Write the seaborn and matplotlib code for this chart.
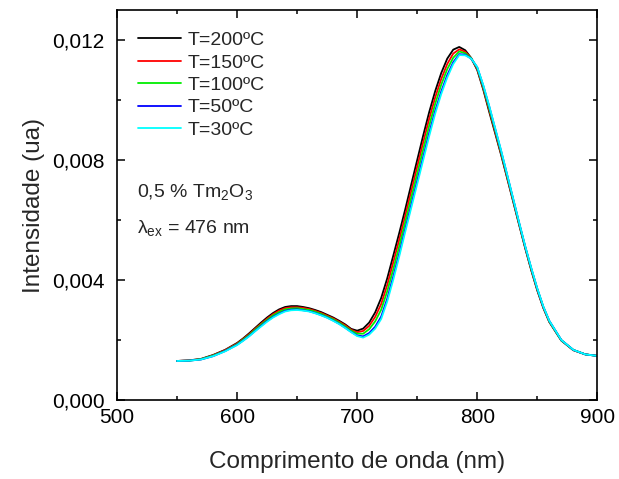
import matplotlib
matplotlib.use("Agg")
import matplotlib.pyplot as plt
import pandas as pd
import seaborn as sns
from matplotlib.ticker import MultipleLocator


wavelength = [550, 560, 570, 580, 590,
              600, 605, 610, 615, 620, 625, 630, 635, 640, 645, 650, 655,
              660, 665, 670, 675, 680, 685, 690, 695, 700, 705, 710, 715,
              720, 725, 730, 735, 740, 745, 750, 755, 760, 765, 770, 775,
              780, 785, 790, 795, 800, 805, 810, 815, 820, 825, 830, 835,
              840, 845, 850, 855, 860,
              870, 880, 890, 900]

t200 = [0.00130, 0.00132, 0.00137, 0.00150, 0.00167,
        0.00190, 0.00205, 0.00222, 0.00240, 0.00258, 0.00275, 0.00290, 0.00302,
        0.00310, 0.00313, 0.00313, 0.00310, 0.00306, 0.00300, 0.00293, 0.00284,
        0.00275, 0.00264, 0.00252, 0.00237, 0.00231, 0.00238, 0.00258, 0.00292,
        0.00340, 0.00405, 0.00480, 0.00556, 0.00635, 0.00718, 0.00800, 0.00882,
        0.00960, 0.01030, 0.01090, 0.01138, 0.01168, 0.01177, 0.01166, 0.01140,
        0.01100, 0.01035, 0.00960, 0.00888, 0.00815, 0.00738, 0.00660, 0.00582,
        0.00505, 0.00432, 0.00365, 0.00307, 0.00260,
        0.00198, 0.00166, 0.00152, 0.00147]
t150 = [0.00130, 0.00132, 0.00136, 0.00149, 0.00166,
        0.00188, 0.00203, 0.00219, 0.00237, 0.00254, 0.00271, 0.00286, 0.00298,
        0.00306, 0.00309, 0.00309, 0.00307, 0.00303, 0.00297, 0.00290, 0.00281,
        0.00272, 0.00261, 0.00249, 0.00234, 0.00226, 0.00230, 0.00247, 0.00277,
        0.00320, 0.00383, 0.00458, 0.00534, 0.00614, 0.00696, 0.00778, 0.00859,
        0.00938, 0.01009, 0.01070, 0.01120, 0.01155, 0.01169, 0.01161, 0.01139,
        0.01103, 0.01039, 0.00966, 0.00893, 0.00819, 0.00741, 0.00663, 0.00584,
        0.00507, 0.00434, 0.00367, 0.00308, 0.00261,
        0.00199, 0.00166, 0.00152, 0.00147]
t100 = [0.00130, 0.00131, 0.00136, 0.00148, 0.00164,
        0.00186, 0.00201, 0.00216, 0.00234, 0.00251, 0.00267, 0.00282, 0.00293,
        0.00302, 0.00305, 0.00306, 0.00303, 0.00300, 0.00294, 0.00287, 0.00278,
        0.00269, 0.00258, 0.00245, 0.00231, 0.00221, 0.00221, 0.00236, 0.00262,
        0.00301, 0.00362, 0.00435, 0.00512, 0.00593, 0.00674, 0.00755, 0.00836,
        0.00915, 0.00988, 0.01051, 0.01103, 0.01141, 0.01162, 0.01156, 0.01139,
        0.01106, 0.01043, 0.00971, 0.00898, 0.00823, 0.00745, 0.00666, 0.00586,
        0.00509, 0.00436, 0.00369, 0.00310, 0.00262,
        0.00199, 0.00167, 0.00152, 0.00147]
t50 = [0.00130, 0.00131, 0.00135, 0.00146, 0.00163,
       0.00184, 0.00198, 0.00213, 0.00230, 0.00247, 0.00263, 0.00277, 0.00288,
       0.00297, 0.00301, 0.00302, 0.00299, 0.00296, 0.00290, 0.00283, 0.00275,
       0.00265, 0.00254, 0.00241, 0.00227, 0.00215, 0.00212, 0.00223, 0.00244,
       0.00278, 0.00337, 0.00410, 0.00487, 0.00569, 0.00649, 0.00730, 0.00810,
       0.00890, 0.00964, 0.01028, 0.01083, 0.01126, 0.01153, 0.01151, 0.01138,
       0.01109, 0.01048, 0.00978, 0.00903, 0.00828, 0.00749, 0.00669, 0.00589,
       0.00511, 0.00439, 0.00371, 0.00311, 0.00264,
       0.00200, 0.00167, 0.00152, 0.00147]
t30 = [0.00130, 0.00131, 0.00135, 0.00146, 0.00162,
       0.00183, 0.00197, 0.00212, 0.00229, 0.00245, 0.00261, 0.00275, 0.00286,
       0.00295, 0.00299, 0.00300, 0.00298, 0.00295, 0.00289, 0.00282, 0.00274,
       0.00264, 0.00253, 0.00240, 0.00226, 0.00213, 0.00208, 0.00218, 0.00238,
       0.00270, 0.00328, 0.00400, 0.00478, 0.00560, 0.00640, 0.00720, 0.00800,
       0.00880, 0.00955, 0.01020, 0.01075, 0.01120, 0.01150, 0.01149, 0.01138,
       0.01110, 0.01050, 0.00980, 0.00905, 0.00830, 0.00750, 0.00670, 0.00590,
       0.00512, 0.00440, 0.00372, 0.00312, 0.00264,
       0.00200, 0.00167, 0.00152, 0.00147]

series_names = ["T=200ºC", "T=150ºC", "T=100ºC", "T=50ºC", "T=30ºC"]
series_colors = ["#000000", "#ff0000", "#00ee00", "#0000ff", "#00ffff"]

y_ticks = [0.000, 0.004, 0.008, 0.012]
y_tick_labels = ["0,000", "0,004", "0,008", "0,012"]
x_ticks = [500, 600, 700, 800, 900]


def main():
    frames = []
    for name, values in zip(series_names, [t200, t150, t100, t50, t30]):
        frames.append(pd.DataFrame({"wl": wavelength, "I": values, "T": name}))
    data = pd.concat(frames, ignore_index=True)

    sns.set_theme(style="ticks")
    plt.rcParams["font.family"] = ["Liberation Sans", "DejaVu Sans"]
    plt.rcParams["mathtext.fontset"] = "custom"
    plt.rcParams["mathtext.rm"] = "Liberation Sans"
    plt.rcParams["mathtext.it"] = "Liberation Sans:italic"

    fig = plt.figure(figsize=(6.19, 4.79), dpi=100)
    ax = fig.add_axes([0.189, 0.165, 0.776, 0.814])

    sns.lineplot(data=data, x="wl", y="I", hue="T", hue_order=series_names,
                 palette=dict(zip(series_names, series_colors)),
                 linewidth=1.3, ax=ax)

    ax.set_xlim(500, 900)
    ax.set_ylim(0, 0.013)
    ax.set_xticks(x_ticks)
    ax.set_yticks(y_ticks)
    ax.set_yticklabels(y_tick_labels)
    ax.xaxis.set_minor_locator(MultipleLocator(50))
    ax.yaxis.set_minor_locator(MultipleLocator(0.002))
    ax.tick_params(which="both", direction="in", top=True, right=True,
                   width=1.1, colors="black", labelsize=15)
    ax.tick_params(which="major", length=6)
    ax.tick_params(which="minor", length=3)
    ax.tick_params(axis="x", which="major", pad=6)
    ax.tick_params(axis="y", which="major", pad=9)
    for spine in ax.spines.values():
        spine.set_visible(True)
        spine.set_linewidth(1.2)
        spine.set_color("black")

    ax.set_xlabel("Comprimento de onda (nm)", fontsize=17.5, labelpad=17)
    ax.set_ylabel("Intensidade (ua)", fontsize=17.5, labelpad=5)

    ax.legend(loc="upper left", frameon=False, fontsize=14, handlelength=2.2,
              handletextpad=0.35, labelspacing=0.25,
              bbox_to_anchor=(0.0, 1.0), borderaxespad=0.7, borderpad=0.4)

    ax.text(0.042, 0.52, r"0,5 % Tm$_2$O$_3$", transform=ax.transAxes,
            fontsize=14)
    ax.text(0.042, 0.428, r"$\mathregular{\lambda_{ex}}$ = 476 nm",
            transform=ax.transAxes, fontsize=14)

    fig.savefig("out.png", dpi=100)
    plt.close(fig)


if __name__ == "__main__":
    main()
